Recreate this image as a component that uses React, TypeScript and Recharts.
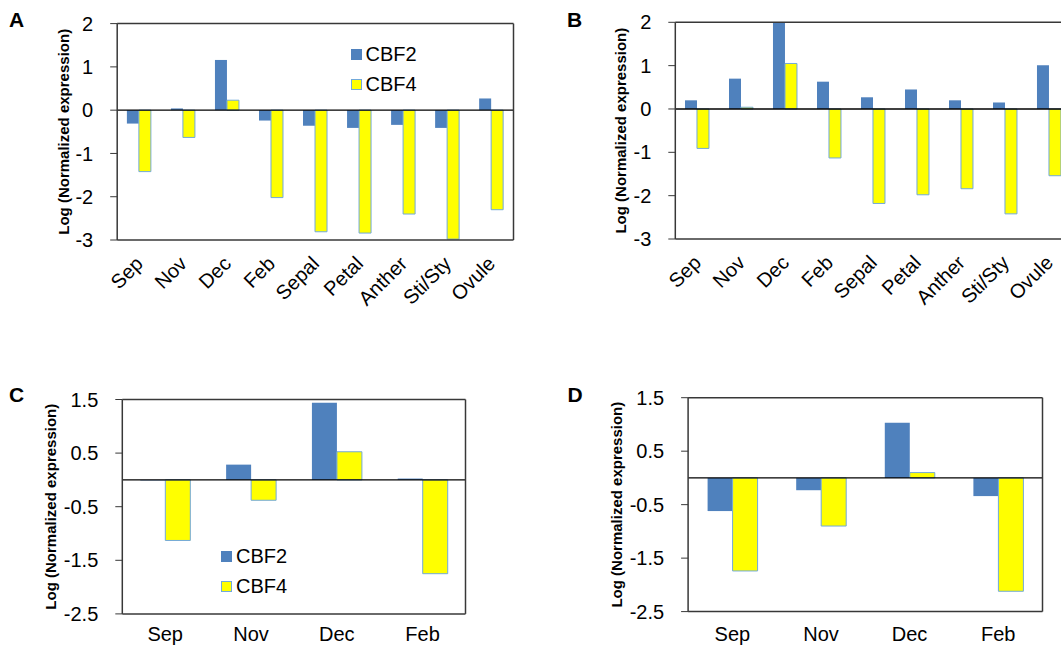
import { BarChart, Bar, XAxis, YAxis, ReferenceLine, Legend } from "recharts";

const FONT = '"Liberation Sans", Arial, sans-serif';
const BLUE = "#4F81BD";
const YELLOW = "#FFFF00";
const EDGE = "#72A9DA";
const FRAME = "#383838";
const TITLE = "Log (Normalized expression)";

// categories
const tissues = ["Sep", "Nov", "Dec", "Feb", "Sepal", "Petal", "Anther", "Sti/Sty", "Ovule"];
const months = ["Sep", "Nov", "Dec", "Feb"];

// panel A
const aCbf2 = [-0.31, 0.04, 1.16, -0.24, -0.36, -0.41, -0.34, -0.41, 0.27];
const aCbf4 = [-1.42, -0.63, 0.23, -2.02, -2.81, -2.84, -2.4, -2.98, -2.3];
// panel B
const bCbf2 = [0.2, 0.7, 2.0, 0.63, 0.27, 0.45, 0.2, 0.15, 1.01];
const bCbf4 = [-0.91, 0.04, 1.05, -1.13, -2.18, -1.98, -1.84, -2.42, -1.54];
// panel C
const cCbf2 = [-0.01, 0.285, 1.44, 0.025];
const cCbf4 = [-1.13, -0.38, 0.525, -1.75];
// panel D
const dCbf2 = [-0.62, -0.23, 1.03, -0.34];
const dCbf4 = [-1.74, -0.9, 0.1, -2.12];

const ticksAB = [-3, -2, -1, 0, 1, 2];
const ticksCD = [-2.5, -1.5, -0.5, 0.5, 1.5];

const build = (cats: string[], s2: number[], s4: number[]) =>
  cats.map((name, i) => ({ name, cbf2: s2[i], cbf4: s4[i] }));

function SlantTick(props: any) {
  const { x, y, payload } = props;
  return (
    <text
      x={x}
      y={y}
      textAnchor="end"
      dominantBaseline="central"
      transform={`rotate(-45, ${x}, ${y})`}
      fontSize={20}
      fontFamily={FONT}
      fill="#000"
    >
      {payload.value}
    </text>
  );
}

function FlatTick(props: any) {
  const { x, y, payload } = props;
  return (
    <text x={x} y={y} textAnchor="middle" fontSize={20} fontFamily={FONT} fill="#000">
      {payload.value}
    </text>
  );
}

const legendItems = [
  { name: "CBF2", fill: BLUE, stroke: "" },
  { name: "CBF4", fill: YELLOW, stroke: EDGE },
];

const renderLegend = () => (
  <div style={{ fontFamily: FONT, fontSize: 20, color: "#000" }}>
    {legendItems.map((s) => (
      <div key={s.name} style={{ display: "flex", alignItems: "center", height: 30 }}>
        <span
          style={{
            width: 11,
            height: 11,
            boxSizing: "border-box",
            background: s.fill,
            border: s.stroke ? `1px solid ${s.stroke}` : "none",
            marginRight: 4,
          }}
        />
        <span>{s.name}</span>
      </div>
    ))}
  </div>
);

interface PanelProps {
  data: { name: string; cbf2: number; cbf4: number }[];
  width: number;
  height: number;
  margin: { top: number; right: number; bottom: number; left: number };
  yWidth: number;
  xHeight: number;
  domain: [number, number];
  ticks: number[];
  titleOffset: number;
  slanted: boolean;
  tickMargin: number;
  gap: string;
  legendPos?: { left: number; top: number };
}

function Panel(p: PanelProps) {
  const lastCat = p.data[p.data.length - 1].name;
  return (
    <BarChart
      width={p.width}
      height={p.height}
      data={p.data}
      margin={p.margin}
      barCategoryGap={p.gap}
      barGap={0}
    >
      <XAxis
        dataKey="name"
        interval={0}
        tickLine={false}
        tickSize={0}
        tickMargin={p.tickMargin}
        height={p.xHeight}
        axisLine={{ stroke: FRAME, strokeWidth: 1.5 }}
        tick={p.slanted ? <SlantTick /> : <FlatTick />}
      />
      <YAxis
        domain={p.domain}
        ticks={p.ticks}
        width={p.yWidth}
        tickSize={7}
        tickMargin={17}
        tickLine={{ stroke: FRAME }}
        axisLine={{ stroke: FRAME, strokeWidth: 1.5 }}
        tick={{ fontSize: 20, fill: "#000", fontFamily: FONT }}
        label={{
          value: TITLE,
          angle: -90,
          position: "insideLeft",
          offset: p.titleOffset,
          style: { textAnchor: "middle", fontSize: 15, fontWeight: "bold", fill: "#000", fontFamily: FONT },
        }}
      />
      {p.legendPos && (
        <Legend
          layout="vertical"
          align="center"
          verticalAlign="middle"
          content={renderLegend}
          wrapperStyle={{ left: p.legendPos.left, top: p.legendPos.top, width: "auto", right: "auto", bottom: "auto" }}
        />
      )}
      <Bar dataKey="cbf2" name="CBF2" fill={BLUE} isAnimationActive={false} />
      <Bar dataKey="cbf4" name="CBF4" fill={YELLOW} stroke={EDGE} strokeWidth={1} isAnimationActive={false} />
      <ReferenceLine y={0} stroke="#000" strokeWidth={1.3} />
      {/* plot frame: top and right edges */}
      <ReferenceLine y={p.domain[1]} stroke={FRAME} strokeWidth={1.5} />
      <ReferenceLine x={lastCat} position="end" stroke={FRAME} strokeWidth={1.5} />
    </BarChart>
  );
}

function Letter({ text, left, top }: { text: string; left: number; top: number }) {
  return (
    <div
      style={{
        position: "absolute",
        left,
        top,
        fontFamily: FONT,
        fontWeight: "bold",
        fontSize: 21,
        lineHeight: "21px",
        color: "#000",
      }}
    >
      {text}
    </div>
  );
}

export default function App() {
  return (
    <div
      style={{
        position: "fixed",
        left: 0,
        top: 0,
        width: 1061,
        height: 646,
        overflow: "hidden",
        background: "#fff",
      }}
    >
      <div style={{ position: "absolute", left: 0, top: 0 }}>
        <Panel
          data={build(tissues, aCbf2, aCbf4)}
          width={530}
          height={330}
          margin={{ top: 23.6, right: 16.5, bottom: 0, left: 0 }}
          yWidth={117.2}
          xHeight={90}
          domain={[-3, 2]}
          ticks={ticksAB}
          titleOffset={64}
          slanted
          tickMargin={20}
          gap="22%"
          legendPos={{ left: 350.5, top: 39.5 }}
        />
      </div>
      <div style={{ position: "absolute", left: 530, top: 0 }}>
        <Panel
          data={build(tissues, bCbf2, bCbf4)}
          width={550}
          height={330}
          margin={{ top: 22.3, right: 8.7, bottom: 0, left: 0 }}
          yWidth={145.3}
          xHeight={91}
          domain={[-3, 2]}
          ticks={ticksAB}
          titleOffset={91}
          slanted
          tickMargin={20}
          gap="22%"
        />
      </div>
      <div style={{ position: "absolute", left: 0, top: 370 }}>
        <Panel
          data={build(months, cCbf2, cCbf4)}
          width={530}
          height={276}
          margin={{ top: 29.5, right: 64.5, bottom: 0, left: 0 }}
          yWidth={122.3}
          xHeight={32.1}
          domain={[-2.5, 1.5]}
          ticks={ticksCD}
          titleOffset={51}
          slanted={false}
          tickMargin={27}
          gap="21%"
          legendPos={{ left: 221, top: 171.5 }}
        />
      </div>
      <div style={{ position: "absolute", left: 530, top: 370 }}>
        <Panel
          data={build(months, dCbf2, dCbf4)}
          width={531}
          height={276}
          margin={{ top: 27.7, right: 18.5, bottom: 0, left: 0 }}
          yWidth={158.1}
          xHeight={34.4}
          domain={[-2.5, 1.5]}
          ticks={ticksCD}
          titleOffset={87}
          slanted={false}
          tickMargin={29.5}
          gap="22%"
        />
      </div>
      <Letter text="A" left={9} top={9.2} />
      <Letter text="B" left={567} top={9.2} />
      <Letter text="C" left={9} top={384.2} />
      <Letter text="D" left={567.5} top={384.2} />
    </div>
  );
}
